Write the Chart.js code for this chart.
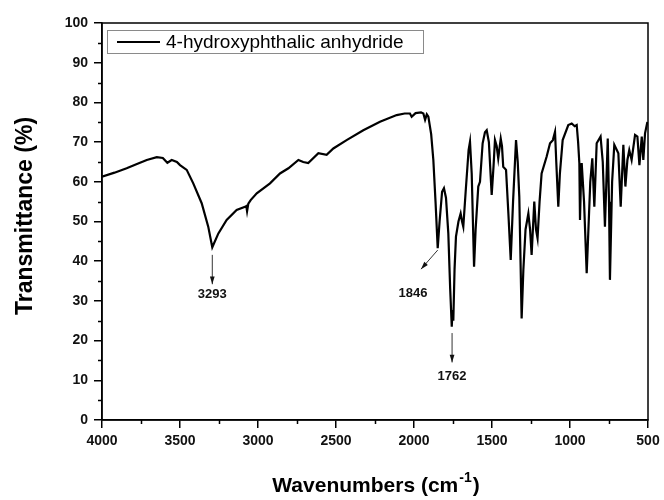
<!DOCTYPE html>
<html>
<head>
<meta charset="utf-8">
<script src="https://cdn.jsdelivr.net/npm/chart.js@4/dist/chart.umd.min.js"></script>
<style>
  html, body { margin: 0; padding: 0; background: #fff; }
  #wrap { width: 664px; height: 500px; }
</style>
</head>
<body>
<div id="wrap"><canvas id="chartIR" width="664" height="500"></canvas></div>
<script>
// FTIR spektrum 4-hydroxyphthalic anhydride
const wavenumbers = [
  4000, 3920, 3842, 3780, 3713, 3649, 3610, 3581, 3553, 3520, 3500, 3457, 3415, 3361, 3319,
  3293, 3254, 3201, 3137, 3083, 3075, 3070, 3062, 3047, 3008, 2923, 2859, 2805, 2741, 2710,
  2678, 2613, 2560, 2517, 2432, 2325, 2218, 2111, 2060, 2026, 2015, 1990, 1955, 1940, 1929,
  1918, 1908, 1890, 1876, 1862, 1848, 1836, 1820, 1808, 1795, 1780, 1768, 1758, 1753, 1748,
  1740, 1731, 1715, 1701, 1692, 1684, 1668, 1650, 1641, 1630, 1615, 1605, 1588, 1577, 1560,
  1545, 1534, 1520, 1502, 1490, 1481, 1470, 1460, 1444, 1436, 1428, 1410, 1395, 1380, 1365,
  1346, 1335, 1325, 1310, 1299, 1285, 1267, 1256, 1246, 1229, 1218, 1208, 1195, 1182, 1150,
  1128, 1110, 1096, 1088, 1075, 1065, 1047, 1011, 989, 970, 957, 948, 940, 936, 930,
  925, 910, 893, 880, 870, 857, 844, 829, 804, 790, 776, 758, 750, 744, 730,
  716, 690, 675, 658, 645, 632, 620, 605, 583, 568, 555, 540, 530, 519, 504
];
const transmittance = [
  61.3, 62.3, 63.4, 64.4, 65.5, 66.2, 66.0, 64.8, 65.5, 65.0, 64.2, 63.0, 59.6, 54.6, 48.7,
  43.5, 47.0, 50.4, 52.9, 53.7, 53.9, 52.6, 54.5, 55.4, 57.1, 59.6, 62.1, 63.4, 65.5, 65.0,
  64.7, 67.2, 66.8, 68.4, 70.5, 73.0, 75.1, 76.8, 77.2, 77.2, 76.4, 77.3, 77.5, 77.2, 75.6,
  77.0, 76.4, 72.0, 65.5, 55.0, 43.3, 50.0, 57.5, 58.4, 56.0, 47.0, 33.0, 23.5, 27.7, 25.0,
  38.0, 46.2, 50.0, 52.0, 50.0, 48.7, 58.0, 68.0, 70.1, 62.0, 38.6, 48.0, 58.8, 60.0, 69.7,
  72.5, 73.0, 70.0, 56.7, 64.0, 70.5, 69.0, 65.9, 70.9, 69.0, 63.8, 63.0, 52.0, 40.3, 55.0,
  70.5, 65.0, 56.2, 25.6, 37.8, 48.0, 52.0, 48.0, 41.6, 55.0, 48.0, 45.8, 55.0, 62.1, 66.3,
  69.7, 70.5, 72.6, 65.0, 53.7, 62.0, 70.5, 74.3, 74.7, 74.0, 74.3, 70.0, 64.6, 50.4, 60.0,
  64.7, 55.0, 37.0, 50.0, 60.0, 65.9, 53.7, 69.7, 71.4, 65.0, 48.7, 70.9, 55.0, 35.3, 60.0,
  69.3, 67.2, 53.7, 69.3, 58.8, 65.5, 68.0, 65.5, 71.8, 71.4, 64.2, 71.4, 65.5, 72.2, 75.1
];
const xTicks = [500, 1000, 1500, 2000, 2500, 3000, 3500, 4000];
const yTicks = [0, 10, 20, 30, 40, 50, 60, 70, 80, 90, 100];
const seriesName = '4-hydroxyphthalic anhydride';
// label puncak: titik awal panah, ujung panah, posisi label
const peaks = [
  { text: '3293', x0: 3293, y0: 41.6, x1: 3293, y1: 34.2, lx: 3293, ly: 31.6 },
  { text: '1846', x0: 1848, y0: 42.8, x1: 1955, y1: 38.0, lx: 2006, ly: 31.8 },
  { text: '1762', x0: 1756, y0: 21.9, x1: 1756, y1: 14.5, lx: 1756, ly: 11.0 }
];

const FONT = '"Liberation Sans", Arial, sans-serif';

const hiasan = {
  id: 'hiasan',
  afterDraw(chart) {
    const c = chart.ctx;
    const a = chart.chartArea;
    const sx = chart.scales.x, sy = chart.scales.y;
    c.save();
    // bingkai
    c.strokeStyle = '#000';
    c.lineWidth = 1.5;
    c.strokeRect(a.left, a.top, a.right - a.left, a.bottom - a.top);
    // tick minor
    c.beginPath();
    for (let v = 5; v < 100; v += 10) {
      const py = Math.round(sy.getPixelForValue(v)) + 0.5;
      c.moveTo(a.left - 4, py); c.lineTo(a.left, py);
    }
    for (let w = 750; w < 4000; w += 500) {
      const px = Math.round(sx.getPixelForValue(w)) + 0.5;
      c.moveTo(px, a.bottom); c.lineTo(px, a.bottom + 4);
    }
    c.stroke();
    // panah dan label puncak
    c.strokeStyle = '#333';
    c.fillStyle = '#111';
    c.lineWidth = 1;
    peaks.forEach(p => {
      const x0 = sx.getPixelForValue(p.x0), y0 = sy.getPixelForValue(p.y0);
      const x1 = sx.getPixelForValue(p.x1), y1 = sy.getPixelForValue(p.y1);
      c.beginPath(); c.moveTo(x0, y0); c.lineTo(x1, y1); c.stroke();
      const ang = Math.atan2(y1 - y0, x1 - x0);
      c.beginPath();
      c.moveTo(x1, y1);
      c.lineTo(x1 - 8 * Math.cos(ang - 0.3), y1 - 8 * Math.sin(ang - 0.3));
      c.lineTo(x1 - 8 * Math.cos(ang + 0.3), y1 - 8 * Math.sin(ang + 0.3));
      c.closePath(); c.fill();
      c.font = 'bold 13px ' + FONT;
      c.textAlign = 'center'; c.textBaseline = 'middle';
      c.fillText(p.text, sx.getPixelForValue(p.lx), sy.getPixelForValue(p.ly));
    });
    // legenda
    c.strokeStyle = '#8a8a8a';
    c.lineWidth = 1;
    c.strokeRect(107.5, 30.5, 316, 23);
    c.strokeStyle = '#000';
    c.lineWidth = 2;
    c.beginPath(); c.moveTo(117, 42); c.lineTo(160, 42); c.stroke();
    c.fillStyle = '#000';
    c.font = '19px ' + FONT;
    c.textAlign = 'left'; c.textBaseline = 'middle';
    c.fillText(seriesName, 166, 43);
    // judul sumbu
    c.font = 'bold 23px ' + FONT;
    c.textAlign = 'center';
    c.save();
    c.translate(26, 216);
    c.rotate(-Math.PI / 2);
    c.fillText('Transmittance (%)', 0, 0);
    c.restore();
    c.textAlign = 'left'; c.textBaseline = 'alphabetic';
    const t1 = 'Wavenumbers (cm';
    c.font = 'bold 21px ' + FONT;
    const w1 = c.measureText(t1).width;
    c.font = 'bold 14px ' + FONT;
    const w2 = c.measureText('-1').width;
    c.font = 'bold 21px ' + FONT;
    const w3 = c.measureText(')').width;
    let tx = 375 - (w1 + w2 + w3) / 2;
    c.fillText(t1, tx, 492);
    c.font = 'bold 14px ' + FONT;
    c.fillText('-1', tx + w1 + 1, 482);
    c.font = 'bold 21px ' + FONT;
    c.fillText(')', tx + w1 + w2 + 2, 492);
    c.restore();
  }
};

const ctx = document.getElementById('chartIR').getContext('2d');
new Chart(ctx, {
  type: 'line',
  data: {
    datasets: [{
      label: seriesName,
      data: wavenumbers.map((w, i) => ({ x: w, y: transmittance[i] })),
      borderColor: '#000',
      borderWidth: 2.2,
      pointRadius: 0,
      tension: 0,
      fill: false
    }]
  },
  options: {
    responsive: false,
    animation: false,
    layout: { padding: { top: 23, right: 16, left: 0, bottom: 0 } },
    plugins: {
      legend: { display: false },
      tooltip: { enabled: false }
    },
    scales: {
      x: {
        type: 'linear',
        reverse: true,
        min: 500,
        max: 4000,
        afterFit: s => { s.height = 80; },
        afterBuildTicks: s => { s.ticks = xTicks.map(v => ({ value: v })); },
        ticks: {
          color: '#111',
          font: { family: FONT, size: 14, weight: 'bold' },
          padding: 5,
          maxRotation: 0,
          callback: v => String(v)
        },
        grid: { drawOnChartArea: false, color: '#000', lineWidth: 1.5, tickLength: 8 },
        border: { color: '#000', width: 1.5 }
      },
      y: {
        min: 0,
        max: 100,
        afterFit: s => { s.width = 102; },
        afterBuildTicks: s => { s.ticks = yTicks.map(v => ({ value: v })); },
        ticks: {
          color: '#111',
          font: { family: FONT, size: 14, weight: 'bold' },
          padding: 6,
          callback: v => String(v)
        },
        grid: { drawOnChartArea: false, color: '#000', lineWidth: 1.5, tickLength: 8 },
        border: { color: '#000', width: 1.5 }
      }
    }
  },
  plugins: [hiasan]
});
</script>
</body>
</html>
